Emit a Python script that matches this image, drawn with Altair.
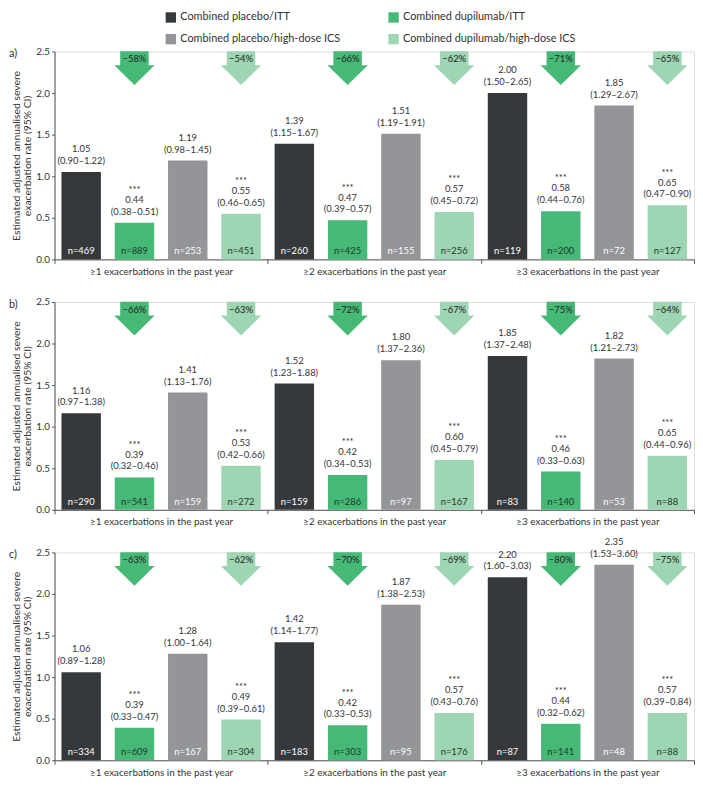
import altair as alt
import pandas as pd

groups = ["≥1 exacerbations in the past year",
          "≥2 exacerbations in the past year",
          "≥3 exacerbations in the past year"]
series = ["Combined placebo/ITT", "Combined dupilumab/ITT",
          "Combined placebo/high-dose ICS", "Combined dupilumab/high-dose ICS"]
colors = ["#36393b", "#47b977", "#939598", "#9ed5b2"]

# Panel a
rates_a = [[1.05, 0.44, 1.19, 0.55], [1.39, 0.47, 1.51, 0.57], [2.00, 0.58, 1.85, 0.65]]
ci_a = [["0.90–1.22", "0.38–0.51", "0.98–1.45", "0.46–0.65"],
        ["1.15–1.67", "0.39–0.57", "1.19–1.91", "0.45–0.72"],
        ["1.50–2.65", "0.44–0.76", "1.29–2.67", "0.47–0.90"]]
n_a = [[469, 889, 253, 451], [260, 425, 155, 256], [119, 200, 72, 127]]
red_a = [[58, 54], [66, 62], [71, 65]]

# Panel b
rates_b = [[1.16, 0.39, 1.41, 0.53], [1.52, 0.42, 1.80, 0.60], [1.85, 0.46, 1.82, 0.65]]
ci_b = [["0.97–1.38", "0.32–0.46", "1.13–1.76", "0.42–0.66"],
        ["1.23–1.88", "0.34–0.53", "1.37–2.36", "0.45–0.79"],
        ["1.37–2.48", "0.33–0.63", "1.21–2.73", "0.44–0.96"]]
n_b = [[290, 541, 159, 272], [159, 286, 97, 167], [83, 140, 53, 88]]
red_b = [[66, 63], [72, 67], [75, 64]]

# Panel c
rates_c = [[1.06, 0.39, 1.28, 0.49], [1.42, 0.42, 1.87, 0.57], [2.20, 0.44, 2.35, 0.57]]
ci_c = [["0.89–1.28", "0.33–0.47", "1.00–1.64", "0.39–0.61"],
        ["1.14–1.77", "0.33–0.53", "1.38–2.53", "0.43–0.76"],
        ["1.60–3.03", "0.32–0.62", "1.53–3.60", "0.39–0.84"]]
n_c = [[334, 609, 167, 304], [183, 303, 95, 176], [87, 141, 48, 88]]
red_c = [[63, 62], [70, 69], [80, 75]]

ARROW = ("M-0.72,-0.85 L0.72,-0.85 L0.72,-0.15 L1.02,-0.15 L0,0.85 "
         "L-1.02,-0.15 L-0.72,-0.15 Z")
FONT = "Lato"
TXT = "#333333"
W, H = 646, 210


def panel(letter, rates, cis, ns, reds):
    rows = []
    for gi, g in enumerate(groups):
        for si, s in enumerate(series):
            rows.append(dict(group=g, series=s, rate=rates[gi][si],
                             ci="(" + cis[gi][si] + ")", n="n=" + str(ns[gi][si]),
                             star="***" if "dupilumab" in s else ""))
    df = pd.DataFrame(rows)
    arows = []
    for gi, g in enumerate(groups):
        for k, s in enumerate([series[1], series[3]]):
            arows.append(dict(group=g, series=s, pct="−" + str(reds[gi][k]) + "%"))
    adf = pd.DataFrame(arows)

    x = alt.X("group:N", sort=groups,
              scale=alt.Scale(domain=groups, paddingInner=0, paddingOuter=0),
              axis=alt.Axis(title=None, labelAngle=0, tickBand="extent", tickSize=4,
                            labelFontSize=10, labelColor=TXT, labelPadding=3,
                            domainColor="#555", tickColor="#555", labelFont=FONT))
    xo = alt.XOffset("series:N", sort=series,
                     scale=alt.Scale(domain=series, paddingInner=0.26, paddingOuter=0.13))
    y = alt.Y("rate:Q", scale=alt.Scale(domain=[0, 2.5], nice=False),
              axis=alt.Axis(values=[0, 0.5, 1.0, 1.5, 2.0, 2.5], format=".1f", grid=False,
                            title=["Estimated adjusted annualised severe",
                                   "exacerbation rate (95% CI)"],
                            titleFontSize=10.5, titleFontWeight="normal", titleColor=TXT,
                            titleFont=FONT, titlePadding=3, titleLineHeight=11.5,
                            labelFontSize=10, labelColor=TXT, labelFont=FONT,
                            tickSize=3, labelPadding=2,
                            domainColor="#555", tickColor="#555"))
    color_scale = alt.Scale(domain=series, range=colors)
    legend = alt.Legend(title=None, orient="none", legendX=112, legendY=-40, columns=2,
                        direction="horizontal",
                        columnPadding=48, rowPadding=10, symbolType="square",
                        symbolSize=110, symbolStrokeWidth=0, labelFontSize=11,
                        labelColor=TXT, labelFont=FONT, labelLimit=300)

    base = alt.Chart(df).encode(x=x, xOffset=xo, y=y)
    bars = base.mark_bar().encode(
        color=alt.Color("series:N", sort=series, scale=color_scale, legend=legend))
    ci = base.mark_text(baseline="middle", dy=-11, fontSize=9.5, color=TXT, font=FONT).encode(
        text="ci:N")
    val = base.mark_text(baseline="middle", dy=-23, fontSize=9.5, color=TXT, font=FONT).encode(
        text=alt.Text("rate:Q", format=".2f"))
    star = base.mark_text(baseline="middle", dy=-33, fontSize=9.5, color=TXT, font=FONT).encode(
        text="star:N")
    nlab = base.mark_text(baseline="middle", dy=-8, fontSize=9.5, font=FONT).encode(
        y=alt.datum(0), text="n:N",
        color=alt.condition("indexof(datum.series, 'placebo') >= 0",
                            alt.value("#ffffff"), alt.value("#1c3a29")))
    abase = alt.Chart(adf).encode(x=x, xOffset=xo, y=alt.datum(2.30))
    arr = abase.mark_point(shape=ARROW, size=1600, filled=True, opacity=1, strokeWidth=0).encode(
        color=alt.Color("series:N", sort=series, scale=color_scale, legend=None))
    pct = abase.mark_text(baseline="middle", dy=-9, fontSize=9.5, color="#222222", font=FONT).encode(
        text="pct:N")
    lab = alt.Chart(pd.DataFrame({"lab": [letter]})).mark_text(
        align="left", baseline="top", fontSize=11, color=TXT, font=FONT).encode(
        text="lab:N", x=alt.value(-46), y=alt.value(-3))
    return alt.layer(bars, arr, ci, val, star, nlab, pct, lab).properties(width=W, height=H)


chart = alt.vconcat(
    panel("a)", rates_a, ci_a, n_a, red_a),
    panel("b)", rates_b, ci_b, n_b, red_b),
    panel("c)", rates_c, ci_c, n_c, red_c),
    spacing=43, bounds="flush", padding=0
).configure_view(stroke=None).configure(font=FONT)

chart.save("out.html", embed_options={"renderer": "svg", "actions": False})
